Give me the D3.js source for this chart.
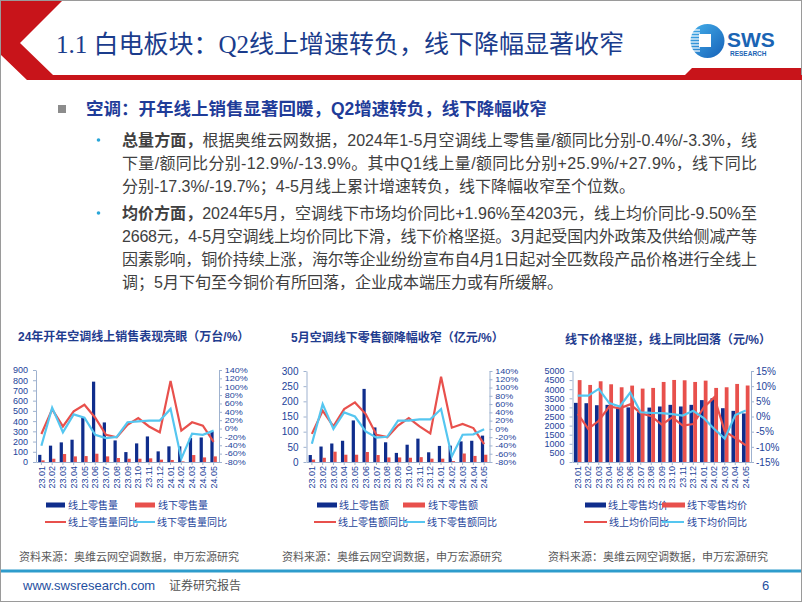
<!DOCTYPE html>
<html><head><meta charset="utf-8">
<script src="https://cdn.jsdelivr.net/npm/d3@7"></script>
<style>body{margin:0;background:#fff}svg{display:block}</style>
</head><body><svg id="s" width="802" height="602"></svg>
<script>
// ---------------- data ----------------
const categories = ["23.01","23.02","23.03","23.04","23.05","23.06","23.07","23.08","23.09","23.10","23.11","23.12","24.01","24.02","24.03","24.04","24.05"];

// chart 1 (万台 / %)
const onlineVol      = [70,160,192,218,435,786,387,211,97,182,250,104,153,153,234,240,299];
const offlineVol     = [16,32,78,55,58,81,55,39,32,32,36,23,20,6,68,45,55];
const onlineVolYoY   = [-13,46,5,41,57,26,-15,-21,9,25,5,-9,114,-5,15,7,-32];
const offlineVolYoY  = [-41,50,-9,34,26,-15,-23,-20,15,17,19,19,47,-72,-12,-15,-5];
const c1LeftTicks  = [0,100,200,300,400,500,600,700,800,900];
const c1RightTicks = [-80,-60,-40,-20,0,20,40,60,80,100,120,140];

// chart 2 (亿元 / %)
const onlineAmt      = [23,51,61,70,137,241,114,65,30,57,77,32,53,54,68,70,87];
const offlineAmt     = [8,14,34,24,24,33,23,15,15,14,16,11,11,3,28,20,24];
const onlineAmtYoY   = [-12,44,6,48,64,36,-14,-20,8,26,6,-11,126,3,12,2,-37];
const offlineAmtYoY  = [-36,60,0,40,30,-6,-21,-19,20,20,23,23,48,-66,-14,-13,-1];
const c2LeftTicks  = [0,50,100,150,200,250,300];
const c2RightTicks = [-80,-60,-40,-20,0,20,40,60,80,100,120,140];

// chart 3 (元 / %)
const onlinePrice    = [3250,3230,3120,3140,2990,3000,2740,2990,3050,3140,3050,3140,3400,3500,2956,2810,2668];
const offlinePrice   = [4500,4234,4435,4270,4106,4198,4033,4070,4398,4508,4490,4398,4471,4070,4106,4289,4203];
const onlinePriceYoY = [0.9,-4.1,-1.4,3.3,2.7,4.0,1.1,0.1,-2.7,-0.3,-3.0,-2.5,3.0,6.3,-4.9,-7.1,-9.5];
const offlinePriceYoY= [6.9,6.9,9.1,4.4,3.3,7.9,1.4,1.2,1.1,0.8,0.3,1.9,-0.5,-4.1,-7.3,0.5,1.96];
const c3LeftTicks  = [0,500,1000,1500,2000,2500,3000,3500,4000,4500,5000];
const c3RightTicks = [-15,-10,-5,0,5,10,15];

// ---------------- styles ----------------
const NAVY = "#0f2d8c", RED = "#e8504c", CYAN = "#55c6f0", LBL = "#23439a", AXIS = "#9fb2cf";
const SANS = "'Liberation Sans', Arial, 'Noto Sans CJK SC', sans-serif";
const svg = d3.select("#s");

// slide frame
svg.append("rect").attr("x",0.5).attr("y",0.5).attr("width",801).attr("height",601)
  .attr("fill","#fff").attr("stroke","#9a9a9a");

// header red chevron
svg.append("path").attr("fill","#c8141a")
  .attr("d","M1,1 L62,1 L20,43 L53,75 L802,75 L802,80 L27,80 L1,55 Z");
svg.append("path").attr("fill","#c8141a")
  .attr("d","M680,80 L692,68 L801,68 L801,80 Z");

// title
svg.append("text").attr("x",56).attr("y",53)
  .attr("font-family","'Liberation Serif','Noto Sans CJK SC',serif").attr("font-size",25)
  .attr("fill","#1a3c8c").text("1.1 白电板块：Q2线上增速转负，线下降幅显著收窄");

// logo
const grad = svg.append("defs").append("linearGradient").attr("id","lg").attr("x1","0").attr("y1","0").attr("x2","1").attr("y2","1");
grad.append("stop").attr("offset","0").attr("stop-color","#45b0ea");
grad.append("stop").attr("offset","1").attr("stop-color","#1560b8");
svg.append("circle").attr("cx",707.5).attr("cy",41).attr("r",17).attr("fill","url(#lg)");
[30,33,36,39,42,45,48,51].forEach(yy=>{
  svg.append("line").attr("x1",690).attr("x2",700).attr("y1",yy).attr("y2",yy)
    .attr("stroke","#fff").attr("stroke-width",1.2);
});
svg.append("rect").attr("x",699).attr("y",34).attr("width",12).attr("height",13).attr("fill","#fff");
svg.append("text").attr("x",727).attr("y",46.5).attr("font-family","'Liberation Sans',Arial,sans-serif")
  .attr("font-weight","bold").attr("font-size",21).attr("fill","#1a64b4").text("SWS");
svg.append("text").attr("x",730).attr("y",56).attr("font-family","'Liberation Sans',Arial,sans-serif")
  .attr("font-weight","bold").attr("font-size",6.5).attr("fill","#1a64b4").text("RESEARCH");

// section heading
svg.append("rect").attr("x",58).attr("y",105).attr("width",8).attr("height",8).attr("fill","#8c8c8c");
svg.append("text").attr("x",86).attr("y",115).attr("font-family",SANS).attr("font-size",17.5)
  .attr("font-weight","bold").attr("fill","#1f3c99")
  .text("空调：开年线上销售显著回暖，Q2增速转负，线下降幅收窄");

// body text
const bodyLines = [
  {y:146, b:"总量方面，", t:"根据奥维云网数据，2024年1-5月空调线上零售量/额同比分别-0.4%/-3.3%，线", full:true},
  {y:169, b:"", t:"下量/额同比分别-12.9%/-13.9%。其中Q1线上量/额同比分别+25.9%/+27.9%，线下同比", full:true},
  {y:192, b:"", t:"分别-17.3%/-19.7%；4-5月线上累计增速转负，线下降幅收窄至个位数。", full:false},
  {y:219, b:"均价方面，", t:"2024年5月，空调线下市场均价同比+1.96%至4203元，线上均价同比-9.50%至", full:true},
  {y:242, b:"", t:"2668元，4-5月空调线上均价同比下滑，线下价格坚挺。3月起受国内外政策及供给侧减产等", full:true},
  {y:265, b:"", t:"因素影响，铜价持续上涨，海尔等企业纷纷宣布自4月1日起对全匹数段产品价格进行全线上", full:true},
  {y:288, b:"", t:"调；5月下旬至今铜价有所回落，企业成本端压力或有所缓解。", full:false}
];
bodyLines.forEach(l=>{
  const t = svg.append("text").attr("x",122).attr("y",l.y).attr("font-family",SANS)
    .attr("font-size",16).attr("fill","#404040");
  if(l.full) t.attr("textLength",635).attr("lengthAdjust","spacing");
  if(l.b) t.append("tspan").attr("font-weight","bold").text(l.b);
  t.append("tspan").text(l.t);
  if(l.b) svg.append("circle").attr("cx",98.5).attr("cy",l.y-6).attr("r",1.8).attr("fill","#2aa6d8");
});

// ---------------- charts ----------------
function drawChart(c){
  const g = svg.append("g");
  const x = d3.scaleBand().domain(categories).range([c.x0,c.x1]);
  const yl = d3.scaleLinear().domain([c.lt[0], c.lt[c.lt.length-1]]).range([c.yb,c.yt]);
  const yr = d3.scaleLinear().domain([c.rt[0], c.rt[c.rt.length-1]]).range([c.yb,c.yt]);
  const bw = x.bandwidth()*c.bf;
  const cx = d => x(d)+x.bandwidth()/2;

  // title
  g.append("text").attr("x",c.tx).attr("y",c.ty).attr("font-family",SANS).attr("font-size",12)
    .attr("font-weight","bold").attr("fill","#1f3c8f").text(c.title);

  // axes
  const styleAxis = (sel,fs)=>{
    sel.selectAll("path").attr("stroke",AXIS);
    sel.selectAll("line").attr("stroke",AXIS);
    sel.selectAll("text").attr("fill",LBL).attr("font-family",SANS).attr("font-size",fs);
  };
  const al = g.append("g").attr("transform",`translate(${c.x0},0)`)
    .call(d3.axisLeft(yl).tickValues(c.lt).tickSize(3).tickSizeOuter(0).tickPadding(5).tickFormat(d3.format("d")));
  styleAxis(al, c.lt.length>9 ? 9 : 10);
  const dense = c.rt.length>9;
  const ar = g.append("g").attr("transform",`translate(${c.x1},0)`)
    .call(d3.axisRight(yr).tickValues(c.rt).tickSize(3).tickSizeOuter(0).tickPadding(dense?1.6:2).tickFormat(d=>d+"%"));
  styleAxis(ar, dense ? 7.2 : 10);
  if(dense) ar.selectAll("text").attr("transform","scale(1.25,1)");
  const ab = g.append("g").attr("transform",`translate(0,${c.yb})`)
    .call(d3.axisBottom(x).tickSize(3).tickSizeOuter(0));
  styleAxis(ab, 9);
  ab.selectAll("text").attr("transform","rotate(-90)").attr("text-anchor","end")
    .attr("x",-4).attr("y",0).attr("dy","0.35em");

  // bars
  g.selectAll(".bb").data(categories).enter().append("rect")
    .attr("x",d=>cx(d)-bw).attr("width",bw)
    .attr("y",(d,i)=>yl(c.b1[i])).attr("height",(d,i)=>yl(0)-yl(c.b1[i])).attr("fill",NAVY);
  g.selectAll(".rb").data(categories).enter().append("rect")
    .attr("x",d=>cx(d)).attr("width",bw)
    .attr("y",(d,i)=>yl(c.b2[i])).attr("height",(d,i)=>yl(0)-yl(c.b2[i])).attr("fill",RED);

  // lines
  const ln = d3.line().x((v,i)=>cx(categories[i])).y(v=>yr(v));
  g.append("path").attr("d",ln(c.l1)).attr("fill","none").attr("stroke",RED).attr("stroke-width",2.2);
  g.append("path").attr("d",ln(c.l2)).attr("fill","none").attr("stroke",CYAN).attr("stroke-width",2.2);

  // legend
  const lg = c.leg;
  const lt = (xx,yy,s)=>g.append("text").attr("x",xx).attr("y",yy+3.5).attr("font-family",SANS)
    .attr("font-size",10).attr("fill",LBL).text(s);
  g.append("rect").attr("x",lg[0][0]).attr("y",502.5).attr("width",lg[0][1]-lg[0][0]).attr("height",5).attr("fill",NAVY);
  lt(lg[0][2],505,c.names[0]);
  g.append("rect").attr("x",lg[1][0]).attr("y",502.5).attr("width",lg[1][1]-lg[1][0]).attr("height",5).attr("fill",RED);
  lt(lg[1][2],505,c.names[1]);
  g.append("line").attr("x1",lg[2][0]).attr("x2",lg[2][1]).attr("y1",522).attr("y2",522).attr("stroke",RED).attr("stroke-width",2);
  lt(lg[2][2],522,c.names[2]);
  g.append("line").attr("x1",lg[3][0]).attr("x2",lg[3][1]).attr("y1",522).attr("y2",522).attr("stroke",CYAN).attr("stroke-width",2);
  lt(lg[3][2],522,c.names[3]);

  // source
  g.append("text").attr("x",c.sx).attr("y",561).attr("font-family",SANS).attr("font-size",11)
    .attr("fill","#595959").text("资料来源：奥维云网空调数据，申万宏源研究");
}

drawChart({x0:36,x1:219,yt:370,yb:462,lt:c1LeftTicks,rt:c1RightTicks,bf:0.3,
  b1:onlineVol,b2:offlineVol,l1:onlineVolYoY,l2:offlineVolYoY,
  title:"24年开年空调线上销售表现亮眼（万台/%）",tx:18,ty:341,
  names:["线上零售量","线下零售量","线上零售量同比","线下零售量同比"],
  leg:[[46,65,68],[135,155,158],[45,66,68],[133,155,157]],sx:19});

drawChart({x0:306.5,x1:489.5,yt:371,yb:462,lt:c2LeftTicks,rt:c2RightTicks,bf:0.3,
  b1:onlineAmt,b2:offlineAmt,l1:onlineAmtYoY,l2:offlineAmtYoY,
  title:"5月空调线下零售额降幅收窄（亿元/%）",tx:291,ty:342,
  names:["线上零售额","线下零售额","线上零售额同比","线下零售额同比"],
  leg:[[317,337,339],[403,425,428],[314,336,338],[403,425,427]],sx:282});

drawChart({x0:572.5,x1:751,yt:371,yb:462,lt:c3LeftTicks,rt:c3RightTicks,bf:0.36,
  b1:onlinePrice,b2:offlinePrice,l1:onlinePriceYoY,l2:offlinePriceYoY,
  title:"线下价格坚挺，线上同比回落（元/%）",tx:565,ty:344,
  names:["线上零售均价","线下零售均价","线上均价同比","线下均价同比"],
  leg:[[585,606,608],[662,685,687],[584,607,609],[662,684,687]],sx:548});

// footer
svg.append("line").attr("x1",1).attr("x2",801).attr("y1",571).attr("y2",571)
  .attr("stroke","#2e9ccc").attr("stroke-width",3);
svg.append("text").attr("x",23).attr("y",590).attr("font-family",SANS).attr("font-size",13)
  .attr("fill","#1f4fa0").text("www.swsresearch.com");
svg.append("text").attr("x",169).attr("y",590).attr("font-family",SANS).attr("font-size",12)
  .attr("fill","#555").text("证券研究报告");
svg.append("text").attr("x",762).attr("y",590).attr("font-family",SANS).attr("font-size",13)
  .attr("fill","#1f4fa0").text("6");
</script></body></html>
